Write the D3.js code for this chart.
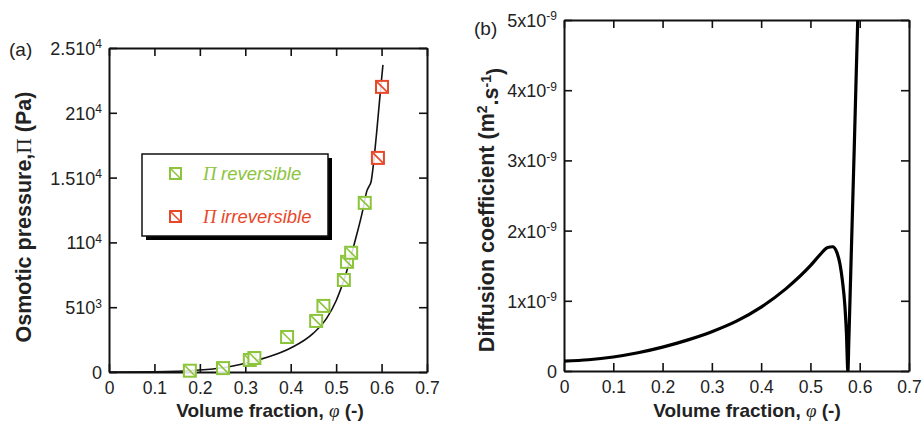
<!DOCTYPE html>
<html lang="en">
<head>
    <meta charset="UTF-8">
    <title>Osmotic pressure and diffusion coefficient</title>
    <script type="application/javascript" src="https://cdn.jsdelivr.net/npm/d3@7/dist/d3.min.js"></script>
    <style type="text/css">
        body { margin: 0; background: #fff; }
        svg text { font-family: "Liberation Sans", Arial, sans-serif; fill: #222; }
        .axis path, .axis line { stroke: #111; }
        .axis path { stroke-width: 2; }
        .axis line { stroke-width: 1.6; }
    </style>
</head>
<body>
<svg id="chart" width="923" height="431"></svg>
<script type="application/javascript">
    // ---- data ----
    var xTicks = [0, 0.1, 0.2, 0.3, 0.4, 0.5, 0.6, 0.7];
    var xTickLabels = ['0', '0.1', '0.2', '0.3', '0.4', '0.5', '0.6', '0.7'];

    // panel (a)
    var piTicks = [0, 5000, 10000, 15000, 20000, 25000];
    var piTickBase = ['0', '510', '110', '1.510', '210', '2.510'];
    var piTickSup = ['', '3', '4', '4', '4', '4'];

    var revPhi = [0.178, 0.251, 0.31, 0.32, 0.392, 0.456, 0.472, 0.517, 0.524, 0.533, 0.563];
    var revPi = [100, 300, 930, 1080, 2700, 3940, 5100, 7100, 8500, 9200, 13050];
    var irrPhi = [0.592, 0.601];
    var irrPi = [16520, 22000];

    var fitPhi = [0, 0.1, 0.15, 0.2, 0.25, 0.3, 0.35, 0.4, 0.45, 0.48, 0.5, 0.52, 0.54, 0.56, 0.567, 0.572, 0.577, 0.582, 0.59, 0.597, 0.603];
    var fitPi = [0, 20, 60, 150, 330, 680, 1150, 1850, 3000, 4200, 5500, 7400, 9900, 12700, 13900, 14300, 14700, 16000, 18800, 21500, 23700];

    // panel (b)
    var dTicks = [0, 1e-9, 2e-9, 3e-9, 4e-9, 5e-9];
    var dTickBase = ['0', '1x10', '2x10', '3x10', '4x10', '5x10'];
    var dTickSup = ['', '-9', '-9', '-9', '-9', '-9'];

    var diffPhi = [0, 0.05, 0.1, 0.15, 0.2, 0.25, 0.3, 0.35, 0.4, 0.45, 0.5, 0.52, 0.535, 0.545, 0.553, 0.56, 0.565, 0.57, 0.573, 0.576, 0.578, 0.581, 0.585, 0.589, 0.593, 0.598];
    var diffVal = [0.14, 0.16, 0.2, 0.26, 0.34, 0.44, 0.56, 0.71, 0.91, 1.17, 1.5, 1.66, 1.76, 1.77, 1.7, 1.52, 1.28, 0.92, 0.55, 0.0, 0.45, 1.2, 2.2, 3.2, 4.25, 5.5];

    var colRev = '#8cc43c';
    var colIrr = '#e8482a';

    var svg = d3.select('#chart');

    function addSup(sel, base, sup, size) {
        sel.each(function (d, i) {
            var t = d3.select(this);
            t.text(null);
            t.append('tspan').text(base[i]);
            if (sup[i]) {
                t.append('tspan').attr('dy', '-0.55em').style('font-size', size + 'px').text(sup[i]);
            }
        });
    }

    function frame(g, x, y, yTicks) {
        var w = x.range()[1] - x.range()[0];
        var h = y.range()[0] - y.range()[1];
        var tk = 8;
        g.append('g').attr('class', 'axis').attr('transform', 'translate(0,' + h + ')')
            .call(d3.axisBottom(x).tickValues(xTicks).tickSizeInner(-tk).tickSizeOuter(0)
                .tickFormat(function (d, i) { return xTickLabels[i]; }))
            .selectAll('text').attr('dy', null).attr('y', 22).style('font-size', '17.5px');
        g.append('g').attr('class', 'axis')
            .call(d3.axisTop(x).tickValues(xTicks).tickSizeInner(-tk).tickSizeOuter(0).tickFormat(''));
        var left = g.append('g').attr('class', 'axis')
            .call(d3.axisLeft(y).tickValues(yTicks).tickSizeInner(-tk).tickSizeOuter(0));
        g.append('g').attr('class', 'axis').attr('transform', 'translate(' + w + ',0)')
            .call(d3.axisRight(y).tickValues(yTicks).tickSizeInner(-tk).tickSizeOuter(0).tickFormat(''));
        left.selectAll('text').attr('x', -7).attr('dy', '0.36em').style('font-size', '18px');
        return left;
    }

    // ---------- panel (a) ----------
    var xa = d3.scaleLinear().domain([0, 0.7]).range([0, 318]);
    var ya = d3.scaleLinear().domain([0, 25000]).range([324, 0]);
    var ga = svg.append('g').attr('transform', 'translate(109,48)');

    var leftA = frame(ga, xa, ya, piTicks);
    addSup(leftA.selectAll('.tick text'), piTickBase, piTickSup, 12);

    var lineA = d3.line().curve(d3.curveMonotoneX)
        .x(function (d) { return xa(d[0]); })
        .y(function (d) { return ya(d[1]); });
    ga.append('path')
        .datum(d3.zip(fitPhi, fitPi))
        .attr('d', lineA)
        .attr('fill', 'none').attr('stroke', '#111').attr('stroke-width', 1.6);

    function markers(g, pts, col, xs, ys) {
        var m = g.selectAll(null).data(pts).enter().append('g')
            .attr('transform', function (d) { return 'translate(' + xs(d[0]) + ',' + ys(d[1]) + ')'; });
        m.append('rect').attr('x', -6).attr('y', -6).attr('width', 12).attr('height', 12)
            .attr('fill', '#fff').attr('fill-opacity', 0.85).attr('stroke', col).attr('stroke-width', 2);
        m.append('line').attr('x1', -5).attr('y1', -5).attr('x2', 5).attr('y2', 5)
            .attr('stroke', col).attr('stroke-width', 1.6);
    }
    markers(ga, d3.zip(revPhi, revPi), colRev, xa, ya);
    markers(ga, d3.zip(irrPhi, irrPi), colIrr, xa, ya);

    // legend
    var lg = svg.append('g').attr('transform', 'translate(142,154)');
    lg.append('rect').attr('x', 4).attr('y', 4).attr('width', 186).attr('height', 82).attr('fill', '#000');
    lg.append('rect').attr('width', 186).attr('height', 82).attr('fill', '#fff')
        .attr('stroke', '#111').attr('stroke-width', 1.5);
    var legItems = [{name: 'reversible', col: colRev, y: 19}, {name: 'irreversible', col: colIrr, y: 62}];
    var li = lg.selectAll(null).data(legItems).enter().append('g')
        .attr('transform', function (d) { return 'translate(0,' + d.y + ')'; });
    li.append('rect').attr('x', 28).attr('y', -5).attr('width', 11).attr('height', 11)
        .attr('fill', '#fff').attr('stroke', function (d) { return d.col; }).attr('stroke-width', 2);
    li.append('line').attr('x1', 29).attr('y1', -4).attr('x2', 38).attr('y2', 5)
        .attr('stroke', function (d) { return d.col; }).attr('stroke-width', 1.5);
    var lt = li.append('text').attr('x', 61).attr('y', 7).style('font-size', '18.5px')
        .style('font-style', 'italic');
    lt.append('tspan').style('font-family', '"Liberation Serif", serif').style('fill', function (d) { return d.col; })
        .text('\u03A0 ');
    lt.append('tspan').style('fill', function (d) { return d.col; }).text(function (d) { return d.name; });

    // titles (a)
    svg.append('text').attr('x', 9).attr('y', 56).style('font-size', '19px').text('(a)');
    var xtA = svg.append('text').attr('x', 270).attr('y', 417).attr('text-anchor', 'middle')
        .style('font-size', '19px').style('font-weight', 'bold');
    xtA.append('tspan').text('Volume fraction, ');
    xtA.append('tspan').style('font-family', '"Liberation Serif", serif').style('font-style', 'italic')
        .style('font-weight', 'normal').text('\u03C6');
    xtA.append('tspan').text(' (-)');

    var ytA = svg.append('text').attr('transform', 'translate(31,217) rotate(-90)')
        .attr('text-anchor', 'middle').style('font-size', '21.5px').style('font-weight', 'bold');
    ytA.append('tspan').text('Osmotic pressure,');
    ytA.append('tspan').style('font-family', '"Liberation Serif", serif').style('font-weight', 'normal')
        .text('\u03A0');
    ytA.append('tspan').text(' (Pa)');

    // ---------- panel (b) ----------
    var xb = d3.scaleLinear().domain([0, 0.7]).range([0, 345]);
    var yb = d3.scaleLinear().domain([0, 5e-9]).range([351, 0]);
    var gb = svg.append('g').attr('transform', 'translate(564,20)');

    var leftB = frame(gb, xb, yb, dTicks);
    addSup(leftB.selectAll('.tick text'), dTickBase, dTickSup, 12);

    gb.append('defs').append('clipPath').attr('id', 'clipB')
        .append('rect').attr('width', 345).attr('height', 351);

    var lineB = d3.line().curve(d3.curveMonotoneX)
        .x(function (d) { return xb(d[0]); })
        .y(function (d) { return yb(d[1] * 1e-9); });
    gb.append('path')
        .datum(d3.zip(diffPhi, diffVal))
        .attr('d', lineB)
        .attr('clip-path', 'url(#clipB)')
        .attr('fill', 'none').attr('stroke', '#000').attr('stroke-width', 3.2)
        .attr('stroke-linejoin', 'round');

    svg.append('text').attr('x', 474).attr('y', 35).style('font-size', '19px').text('(b)');
    var xtB = svg.append('text').attr('x', 747).attr('y', 417).attr('text-anchor', 'middle')
        .style('font-size', '19px').style('font-weight', 'bold');
    xtB.append('tspan').text('Volume fraction, ');
    xtB.append('tspan').style('font-family', '"Liberation Serif", serif').style('font-style', 'italic')
        .style('font-weight', 'normal').text('\u03C6');
    xtB.append('tspan').text(' (-)');

    var ytB = svg.append('text').attr('transform', 'translate(494,210) rotate(-90)')
        .attr('text-anchor', 'middle').style('font-size', '21.5px').style('font-weight', 'bold');
    ytB.append('tspan').text('Diffusion coefficient (m');
    ytB.append('tspan').attr('dy', '-0.5em').style('font-size', '14px').text('2');
    ytB.append('tspan').attr('dy', '0.5em').text('.s');
    ytB.append('tspan').attr('dy', '-0.5em').style('font-size', '14px').text('-1');
    ytB.append('tspan').attr('dy', '0.5em').text(')');
</script>
</body>
</html>
